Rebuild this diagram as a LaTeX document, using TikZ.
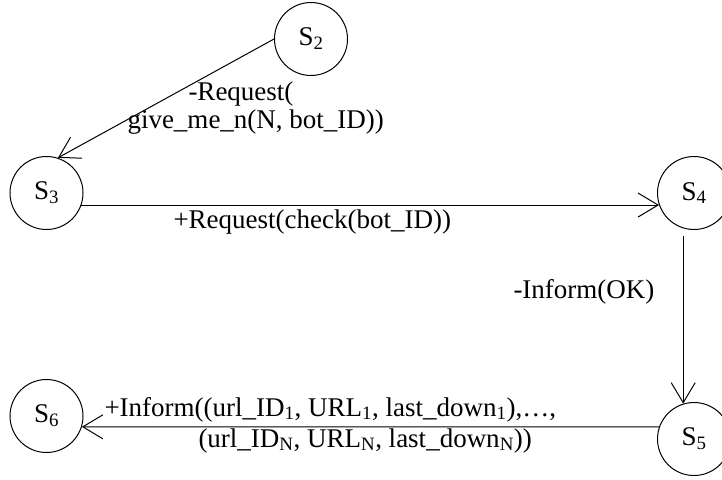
\documentclass[tikz,border=0pt]{standalone}
\usepackage{fontspec}
\setmainfont{Liberation Serif}
\usetikzlibrary{arrows.meta,automata}

\begin{document}
\begin{tikzpicture}[x=1pt,y=-1pt,line width=1pt,
  >={Straight Barb[length=20pt,width=24pt,line width=1pt]},
  every state/.style={minimum size=73pt,inner sep=0pt,line width=1pt},
  msg/.style={anchor=base west,inner sep=0pt,align=left},
  font=\fontsize{27}{28}\selectfont]
\useasboundingbox (0,0) rectangle (722,479);
\node[state]          (s_2) at (311,39)  {S\textsubscript{2}};
\node[state]          (s_3) at (46.5,193) {S\textsubscript{3}};
\node[state]          (s_4) at (694,193) {S\textsubscript{4}};
\node[state]          (s_5) at (694,439) {S\textsubscript{5}};
\node[state]          (s_6) at (46.5,416) {S\textsubscript{6}};
\node[msg]  (m_req)  at (127,128) {\hspace*{61pt}-Request(\\give\_me\_n(N, bot\_ID))};
\node[msg]  (m_chk)  at (173,228) {+Request(check(bot\_ID))};
\node[msg]  (m_ok)   at (513,298) {-Inform(OK)};
\node[msg]  (m_inf)  at (104,447) {+Inform((url\_ID\textsubscript{1}, URL\textsubscript{1}, last\_down\textsubscript{1}),…,\\[3pt]
  \hspace*{94pt}(url\_ID\textsubscript{N}, URL\textsubscript{N}, last\_down\textsubscript{N}))};
\path[->]
          (s_2.west)  edge (s_3.72)
          (s_3.-19)   edge (s_4.199)
          (s_4.-107)  edge [shorten <=8pt] (s_5.107)
          (s_5.161)   edge (s_6.-17);
\end{tikzpicture}
\end{document}
